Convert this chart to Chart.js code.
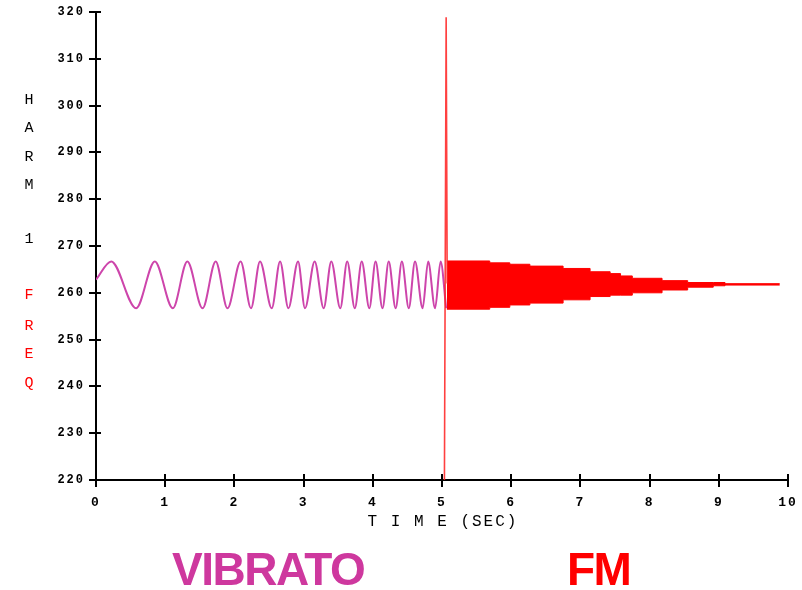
<!DOCTYPE html>
<html><head><meta charset="utf-8">
<script src="https://cdn.jsdelivr.net/npm/chart.js@4.4.1/dist/chart.umd.min.js"></script>
<style>html,body{margin:0;padding:0;background:#fff;overflow:hidden}canvas{display:block}</style>
</head><body>
<canvas id="c" width="802" height="590"></canvas>
<script>
// ---- data ----
const xTicks = [0,1,2,3,4,5,6,7,8,9,10];
const yTicks = [220,230,240,250,260,270,280,290,300,310,320];

// vibrato: start, then alternating peaks / troughs (sec, Hz)
const vibTime = [0,0.22,0.58,0.85,1.11,1.32,1.54,1.73,1.90,2.09,2.24,2.37,2.54,2.66,2.78,2.92,3.02,3.16,3.29,3.40,3.53,3.63,3.74,3.84,3.95,4.04,4.14,4.23,4.33,4.42,4.52,4.61,4.72,4.80,4.90,4.98,5.06];
const vibFreq = [262.8,266.7,256.7,266.7,256.7,266.7,256.7,266.7,256.7,266.7,256.7,266.7,256.7,266.7,256.7,266.7,256.7,266.7,256.7,266.7,256.7,266.7,256.7,266.7,256.7,266.7,256.7,266.7,256.7,266.7,256.7,266.7,256.7,266.7,256.7,266.7,256.7];

// FM: envelope of the dense oscillation (sec, Hz)
const fmTime  = [5.07,5.69,5.98,6.27,6.75,7.14,7.43,7.58,7.75,8.18,8.55,8.92,9.09,9.88];
const fmUpper = [266.8,266.4,266.1,265.7,265.2,264.5,264.1,263.6,263.1,262.6,262.2,262.2,261.95,261.95];
const fmLower = [256.5,256.9,257.4,257.8,258.5,259.2,259.5,259.5,260.0,260.6,261.2,261.5,261.65,261.65];

// FM onset spike
const spikeTime = [5.035,5.06,5.075];
const spikeFreq = [220,318.9,262];

const yTitleBlack = ['H','A','R','M','1'];
const yTitleRed = ['F','R','E','Q'];
const xTitle = 'T I M E (SEC)';
const label1 = 'VIBRATO';
const label2 = 'FM';

const pts = (xs, ys) => xs.map((x,i) => ({x, y: ys[i]}));

const MONO = '"Liberation Mono", "DejaVu Sans Mono", monospace';

const crossTicks = {
  id: 'crossTicks',
  beforeDraw(chart) { chart.ctx.letterSpacing = '2px'; },
  afterDraw(chart) {
    const ctx = chart.ctx, a = chart.chartArea;
    const xs = chart.scales.x, ys = chart.scales.y;
    ctx.save();
    ctx.letterSpacing = '0px';
    ctx.strokeStyle = '#000'; ctx.lineWidth = 2;
    ctx.beginPath();
    xTicks.forEach(v => { const p = Math.round(xs.getPixelForValue(v)); ctx.moveTo(p, a.bottom - 6); ctx.lineTo(p, a.bottom + 7); });
    yTicks.forEach(v => { const p = Math.round(ys.getPixelForValue(v)); ctx.moveTo(a.left - 7, p); ctx.lineTo(a.left + 5, p); });
    ctx.stroke();

    // vertical y-axis title
    ctx.textAlign = 'center'; ctx.textBaseline = 'middle';
    ctx.font = '15px ' + MONO;
    ctx.fillStyle = '#000';
    [100,128,157,185,239].forEach((y,i) => ctx.fillText(yTitleBlack[i], 29, y));
    ctx.fillStyle = '#ff0000';
    [295,326,354,383].forEach((y,i) => ctx.fillText(yTitleRed[i], 29, y));

    // x title
    ctx.fillStyle = '#000';
    ctx.font = '16px ' + MONO;
    ctx.letterSpacing = '2px';
    ctx.fillText(xTitle, (a.left + a.right) / 2 + 1, 522);

    // big labels
    ctx.letterSpacing = '-1.5px';
    ctx.textAlign = 'left'; ctx.textBaseline = 'alphabetic';
    ctx.font = 'bold 46px "Liberation Sans", Arial, sans-serif';
    ctx.fillStyle = 'rgb(206,56,158)';
    ctx.fillText(label1, 172, 585);
    ctx.fillStyle = '#ff0000';
    ctx.fillText(label2, 567, 585);
    ctx.restore();
  }
};

new Chart(document.getElementById('c'), {
  type: 'line',
  data: {
    datasets: [
      { label: 'vibrato', data: pts(vibTime, vibFreq), borderColor: '#cd45ab', borderWidth: 2,
        cubicInterpolationMode: 'monotone', pointRadius: 0, fill: false, order: 2 },
      { label: 'fm upper', data: pts(fmTime, fmUpper), borderColor: '#ff0000', borderWidth: 1,
        stepped: 'before', pointRadius: 0, fill: false, order: 1 },
      { label: 'fm lower', data: pts(fmTime, fmLower), borderColor: '#ff0000', borderWidth: 1,
        backgroundColor: '#ff0000', stepped: 'before', pointRadius: 0, fill: '-1', order: 1 },
      { label: 'spike', data: pts(spikeTime, spikeFreq), borderColor: 'rgba(255,30,30,0.85)', borderWidth: 1.6,
        pointRadius: 0, fill: false, order: 0 }
    ]
  },
  options: {
    responsive: false, animation: false, devicePixelRatio: 1,
    layout: { padding: { left: 0, right: 14, top: 12, bottom: 0 } },
    plugins: { legend: { display: false }, tooltip: { enabled: false } },
    scales: {
      x: {
        type: 'linear', min: 0, max: 10,
        afterBuildTicks: s => { s.ticks = xTicks.map(v => ({ value: v })); },
        afterFit: s => { s.height = 110; },
        grid: { display: false, drawTicks: true, tickLength: 15 },
        border: { display: true, color: '#000', width: 2 },
        ticks: { color: '#000', padding: 0, maxRotation: 0, autoSkip: false, font: { family: MONO, size: 13, weight: 'bold' } }
      },
      y: {
        type: 'linear', min: 220, max: 320,
        afterBuildTicks: s => { s.ticks = yTicks.map(v => ({ value: v })); },
        afterFit: s => { s.width = 96; },
        grid: { display: false, drawTicks: true, tickLength: 11 },
        border: { display: true, color: '#000', width: 2 },
        ticks: { color: '#000', padding: 0, autoSkip: false, font: { family: MONO, size: 12, weight: 'bold' } }
      }
    }
  },
  plugins: [crossTicks]
});
</script>
</body></html>
